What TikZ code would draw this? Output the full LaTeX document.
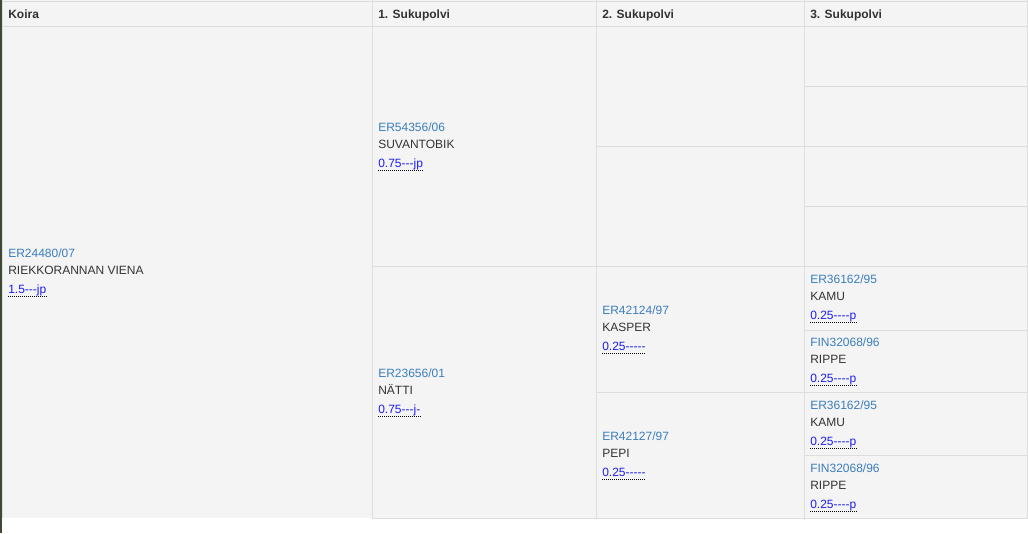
\documentclass[tikz,border=0pt]{standalone}
\usepackage{fontspec}
\setmainfont{Liberation Sans}[Ligatures=TeXOff]
\usetikzlibrary{positioning}
\definecolor{cellgrey}{HTML}{F4F4F4}
\definecolor{gridgrey}{HTML}{DDDDDD}
\definecolor{textgrey}{HTML}{333333}
\definecolor{idblue}{HTML}{3A7DBE}
\definecolor{linkblue}{HTML}{1C1CF5}
\definecolor{photostrip}{HTML}{3E4A35}
\tikzset{grid/.style={draw=gridgrey, line width=0.75pt}}
\tikzset{head/.style={anchor=base west, inner sep=0pt, font=\fontsize{9}{10}\selectfont\bfseries, text=textgrey}}
\tikzset{regno/.style={anchor=base west, inner sep=0pt, font=\fontsize{9}{10}\selectfont, text=idblue}}
\tikzset{dogname/.style={anchor=base west, inner sep=0pt, font=\fontsize{9}{10}\selectfont, text=textgrey}}
\tikzset{coi/.style={anchor=base west, inner sep=0pt, font=\fontsize{9}{10}\selectfont, text=linkblue}}
\tikzset{underl/.style={draw=black, line width=0.75pt, dash pattern=on 0.75pt off 0.75pt}}
\begin{document}
\begin{tikzpicture}[x=0.75pt, y=-0.75pt]
            \useasboundingbox (0, 0) rectangle (1028, 533);
            \fill [white] (0, 0) rectangle (1028, 533);
            \fill [photostrip] (0, 0) rectangle (2, 533);
            \fill [cellgrey] (2, 0) rectangle (1028, 518);

            % table lines
            \draw [grid] (2, 1) -- (1028, 1);
            \draw [grid] (2, 26) -- (1028, 26);
            \draw [grid] (2.5, 0) -- (2.5, 518);
            \draw [grid] (372, 0) -- (372, 518);
            \draw [grid] (596, 0) -- (596, 518);
            \draw [grid] (804, 0) -- (804, 520);
            \draw [grid] (1027.5, 0) -- (1027.5, 518);
            \draw [grid] (372, 266) -- (596, 266);
            \draw [grid] (596, 146) -- (804, 146);
            \draw [grid] (596, 266) -- (804, 266);
            \draw [grid] (596, 392) -- (804, 392);
            \draw [grid] (804, 86) -- (1028, 86);
            \draw [grid] (804, 146) -- (1028, 146);
            \draw [grid] (804, 206) -- (1028, 206);
            \draw [grid] (804, 266) -- (1028, 266);
            \draw [grid] (804, 330) -- (1028, 330);
            \draw [grid] (804, 392) -- (1028, 392);
            \draw [grid] (804, 455) -- (1028, 455);
            \draw [grid] (372, 518) -- (1028, 518);

            \node [head] (H0) at (8, 18.5) {Koira};
            \node [head] (H1) at (378, 18.5) {1. Sukupolvi};
            \node [head] (H2) at (602, 18.5) {2. Sukupolvi};
            \node [head] (H3) at (810, 18.5) {3. Sukupolvi};

            % dog
            \node [regno] (I0) at (8, 257) {ER24480/07};
            \node [dogname] (N0) at (8, 274) {RIEKKORANNAN VIENA};
            \node [coi] (L0) at (8, 293) {1.5---jp};

            % 1st generation
            \node [regno] (I1) at (378, 131) {ER54356/06};
            \node [dogname] (N1) at (378, 148) {SUVANTOBIK};
            \node [coi] (L1) at (378, 167) {0.75---jp};

            \node [regno] (I2) at (378, 377) {ER23656/01};
            \node [dogname] (N2) at (378, 394) {NÄTTI};
            \node [coi] (L2) at (378, 413) {0.75---j-};

            % 2nd generation
            \node [regno] (I3) at (602, 314) {ER42124/97};
            \node [dogname] (N3) at (602, 331) {KASPER};
            \node [coi] (L3) at (602, 350) {0.25-----};

            \node [regno] (I4) at (602, 440) {ER42127/97};
            \node [dogname] (N4) at (602, 457) {PEPI};
            \node [coi] (L4) at (602, 476) {0.25-----};

            % 3rd generation
            \node [regno] (I5) at (810, 283) {ER36162/95};
            \node [dogname] (N5) at (810, 300) {KAMU};
            \node [coi] (L5) at (810, 319) {0.25----p};

            \node [regno] (I6) at (810, 346) {FIN32068/96};
            \node [dogname] (N6) at (810, 363) {RIPPE};
            \node [coi] (L6) at (810, 382) {0.25----p};

            \node [regno] (I7) at (810, 409) {ER36162/95};
            \node [dogname] (N7) at (810, 426) {KAMU};
            \node [coi] (L7) at (810, 445) {0.25----p};

            \node [regno] (I8) at (810, 472) {FIN32068/96};
            \node [dogname] (N8) at (810, 489) {RIPPE};
            \node [coi] (L8) at (810, 508) {0.25----p};

            \foreach \n in {0, ..., 8} {
                \draw [underl] ([yshift=-2.25pt]L\n.base west) -- ([yshift=-2.25pt]L\n.base east);
            }
        \end{tikzpicture}
\end{document}
